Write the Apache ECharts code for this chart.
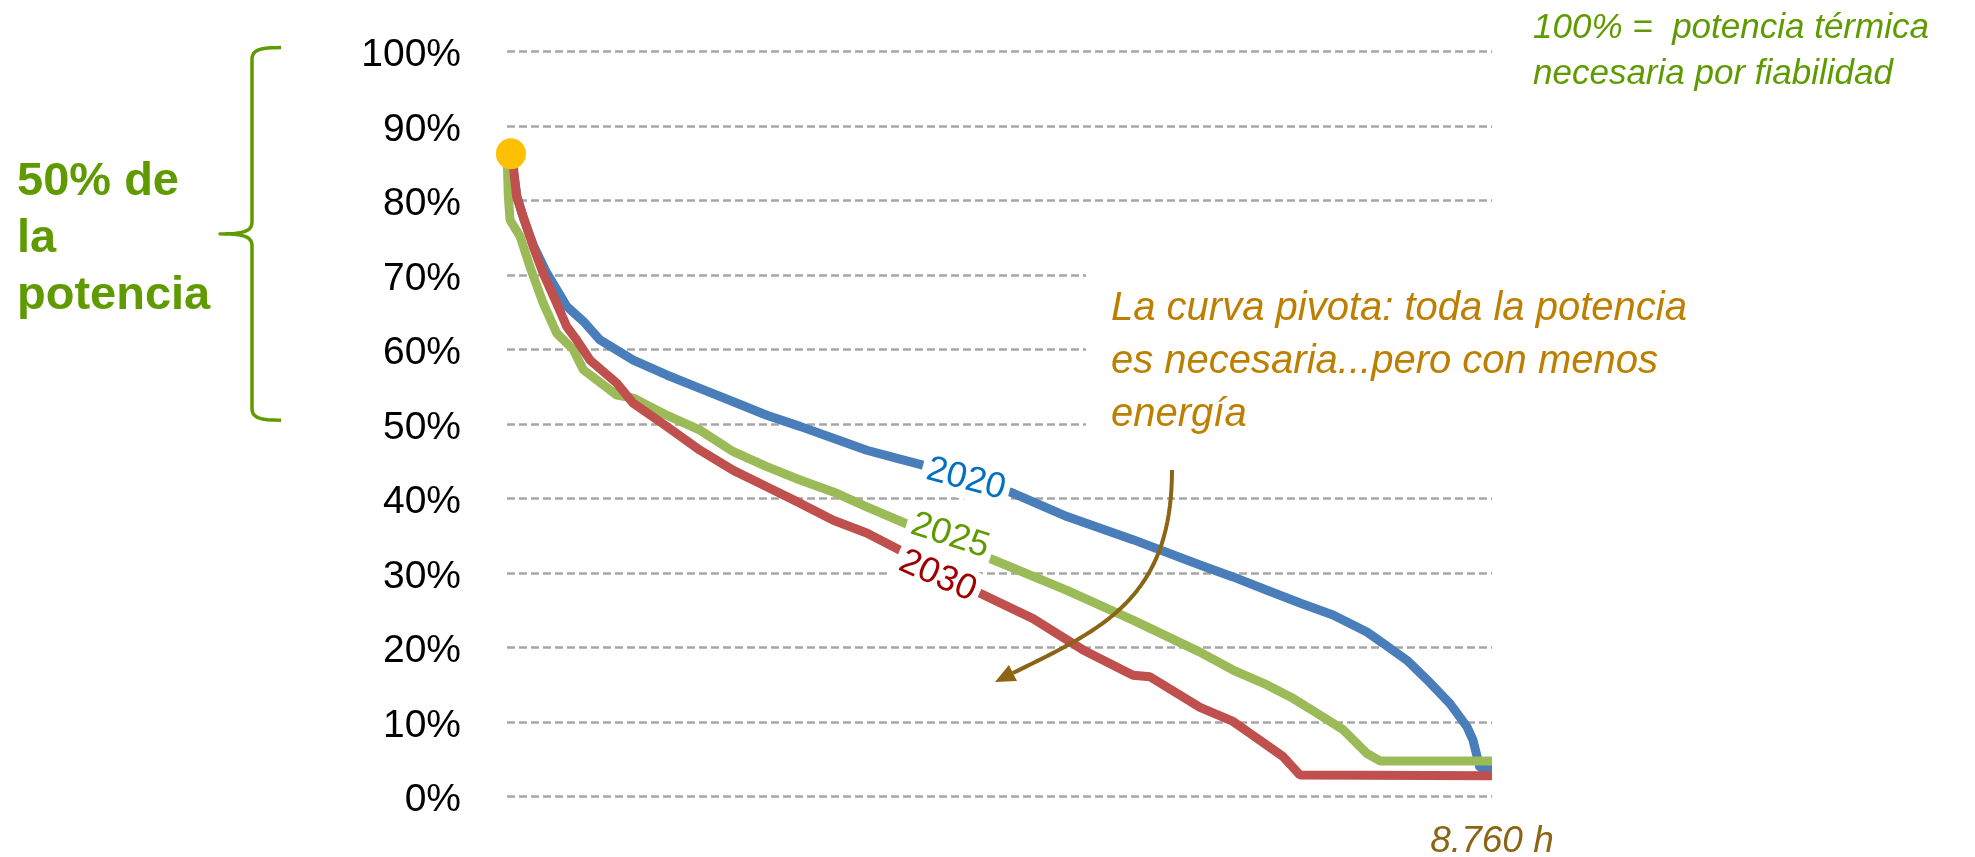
<!DOCTYPE html>
<html><head><meta charset="utf-8">
<script src="https://cdn.jsdelivr.net/npm/echarts@6/dist/echarts.min.js"></script>
<style>html,body{margin:0;padding:0;background:#fff}#c{width:1975px;height:857px}</style>
</head><body><div id="c"></div>
<script>
// ---- data (hours of the year, % of reliability thermal capacity) ----
const hours2020 = [0, 50, 90, 150, 240, 353, 531, 679, 827, 1123, 1420, 1716, 2013, 2310, 2606, 2902, 3199, 3495, 3673, 4473, 4980, 5567, 6163, 6457, 6759, 7052, 7346, 7648, 7790, 8004, 8182, 8386, 8537, 8591, 8627, 8653, 8760];
const values2020 = [86.3, 84.5, 80.5, 77.5, 73.8, 70.3, 65.8, 63.8, 61.3, 58.6, 56.6, 54.8, 53.0, 51.2, 49.7, 48.1, 46.5, 45.3, 44.6, 40.9, 37.6, 34.5, 31.1, 29.5, 27.7, 26.0, 24.4, 22.1, 20.6, 18.3, 15.7, 12.5, 9.4, 7.6, 5.4, 3.85, 3.85];

const hours2025 = [0, 12, 27, 116, 205, 323, 442, 590, 679, 976, 1123, 1420, 1716, 2013, 2310, 2606, 2902, 3199, 3540, 4322, 4980, 5567, 6163, 6457, 6759, 6990, 7204, 7435, 7648, 7764, 8760];
const values2025 = [86.3, 80.5, 77.4, 75.2, 71.1, 66.2, 62.2, 60.0, 57.3, 53.9, 53.5, 51.2, 49.2, 46.3, 44.3, 42.5, 40.9, 38.9, 36.7, 31.8, 27.7, 23.7, 19.4, 17.0, 15.0, 13.2, 11.2, 9.0, 5.8, 4.8, 4.8];

const hours2030 = [0, 56, 86, 145, 234, 323, 442, 531, 620, 738, 976, 1123, 1420, 1716, 2013, 2310, 2606, 2902, 3199, 3466, 4207, 4678, 5123, 5567, 5718, 6163, 6457, 6608, 6759, 6901, 7052, 8760];
const values2030 = [86.3, 84.6, 80.5, 77.8, 73.8, 70.2, 66.2, 63.1, 61.3, 58.6, 55.5, 52.8, 49.7, 46.5, 43.8, 41.6, 39.4, 37.1, 35.4, 33.3, 27.3, 23.9, 19.7, 16.3, 16.1, 12.0, 10.1, 8.5, 6.9, 5.4, 2.9, 2.8];

const peakHours = [35];
const peakValues = [86.3];

const seriesNames = ['2020', '2025', '2030'];
const xMaxHours = 8760;
const xMaxLabel = '8.760 h';

(function () {
const zip = (a, b) => a.map((v, i) => [v, b[i]]);
const FONT = '"Liberation Sans", Arial, sans-serif';

const chart = echarts.init(document.getElementById('c'), null, {renderer: 'canvas'});
chart.setOption({
  animation: false,
  backgroundColor: '#fff',
  grid: {left: 507, right: 483, top: 51.6, bottom: 60.3, containLabel: false, outerBoundsMode: 'none'},
  xAxis: {
    type: 'value', min: 0, max: xMaxHours, interval: xMaxHours,
    axisLine: {show: false}, axisTick: {show: false}, splitLine: {show: false},
    axisLabel: {
      showMinLabel: false, showMaxLabel: true,
      formatter: v => (v === xMaxHours ? xMaxLabel : ''),
      color: '#8B6414', fontSize: 37, fontStyle: 'italic', fontFamily: FONT, margin: 27
    }
  },
  yAxis: {
    type: 'value', min: 0, max: 100, interval: 10,
    axisLine: {show: false}, axisTick: {show: false},
    axisLabel: {formatter: '{value}%', color: '#000', fontSize: 39, fontFamily: FONT, margin: 46,
      verticalAlign: 'top', lineHeight: 8},
    splitLine: {lineStyle: {color: '#A6A6A6', width: 2.5, type: [8, 4]}}
  },
  series: [
    {name: seriesNames[0], type: 'line', data: zip(hours2020, values2020), showSymbol: false,
     lineStyle: {color: '#4A7EBB', width: 9}, z: 3},
    {name: seriesNames[1], type: 'line', data: zip(hours2025, values2025), showSymbol: false,
     lineStyle: {color: '#9BBB59', width: 9}, z: 4},
    {name: seriesNames[2], type: 'line', data: zip(hours2030, values2030), showSymbol: false,
     lineStyle: {color: '#C0504D', width: 9}, z: 5},
    {type: 'scatter', data: zip(peakHours, peakValues), symbolSize: [30, 31],
     itemStyle: {color: '#FFC000', opacity: 1}, z: 10}
  ]
});

const px = (h, v) => chart.convertToPixel({gridIndex: 0}, [h, v]);
const bez = (p0, p1, p2, p3, n) => {
  const out = [];
  for (let i = 0; i <= n; i++) {
    const t = i / n, m = 1 - t;
    out.push([
      m * m * m * p0[0] + 3 * m * m * t * p1[0] + 3 * m * t * t * p2[0] + t * t * t * p3[0],
      m * m * m * p0[1] + 3 * m * m * t * p1[1] + 3 * m * t * t * p2[1] + t * t * t * p3[1]
    ]);
  }
  return out;
};

// brace from 100% to 50%
const bTop = px(0, 100)[1] - 4, bBot = px(0, 50)[1] - 4, bMid = (bTop + bBot) / 2;
const bx = 252, arm = 281, tip = 220;
const bracePts = [].concat(
  bez([arm, bTop], [bx + 8, bTop], [bx, bTop + 2], [bx, bTop + 12], 12),
  bez([bx, bMid - 12], [bx, bMid - 2], [bx - 10, bMid], [tip, bMid], 12),
  bez([tip, bMid], [bx - 10, bMid], [bx, bMid + 2], [bx, bMid + 12], 12),
  bez([bx, bBot - 12], [bx, bBot - 2], [bx + 8, bBot], [arm, bBot], 12)
);

// series labels anchored in data units
const labelAnchors = [
  {text: '2020', h: 4082, v: 42.6, color: '#0070C0', rot: 15},
  {text: '2025', h: 3940, v: 35.0, color: '#5F9B00', rot: 18},
  {text: '2030', h: 3830, v: 29.6, color: '#A00000', rot: 24}
];

// arrow in data units
const a0 = px(5914, 43.85), a1 = px(5914, 26.4), a2 = px(5274, 22.4), a3 = px(4340, 15.4);
const dx = a3[0] - a2[0], dy = a3[1] - a2[1], dl = Math.hypot(dx, dy);
const ux = dx / dl, uy = dy / dl, nx = -uy, ny = ux;
const headL = 20, headW = 9;
const base = [a3[0] - headL * ux, a3[1] - headL * uy];
const arrowPts = bez(a0, a1, a2, base, 40);

const graphics = [
  {type: 'rect', z: 50, shape: {x: 1086, y: 262, width: 660, height: 176}, style: {fill: '#fff'}},
  {type: 'text', z: 60, x: 1111, y: 282, style: {
    text: 'La curva pivota: toda la potencia\nes necesaria...pero con menos\nenergía',
    fill: '#BD7F00', fontSize: 40, fontStyle: 'italic', fontFamily: FONT, lineHeight: 53, verticalAlign: 'top'}},
  {type: 'text', z: 60, x: 1533, y: 5, style: {
    text: '100% =  potencia térmica\nnecesaria por fiabilidad',
    fill: '#5F9B00', fontSize: 35, fontStyle: 'italic', fontFamily: FONT, lineHeight: 46, verticalAlign: 'top'}},
  {type: 'text', z: 60, x: 17, y: 154, style: {
    text: '50% de\nla\npotencia',
    fill: '#5F9B00', fontSize: 47, fontWeight: 'bold', fontFamily: FONT, lineHeight: 57, verticalAlign: 'top'}},
  {type: 'polyline', z: 60, shape: {points: bracePts},
   style: {fill: null, stroke: '#5F9B00', lineWidth: 3.5, lineJoin: 'round'}},
  {type: 'polyline', z: 110, shape: {points: arrowPts},
   style: {stroke: '#8B6414', lineWidth: 4, fill: null, lineJoin: 'round'}},
  {type: 'polygon', z: 110, shape: {points: [
    a3, [base[0] + headW * nx, base[1] + headW * ny], [base[0] - headW * nx, base[1] - headW * ny]]},
   style: {fill: '#8B6414'}}
];
labelAnchors.forEach(l => {
  const p = px(l.h, l.v);
  graphics.push({type: 'text', z: 100, x: p[0], y: p[1], rotation: -l.rot * Math.PI / 180,
    style: {text: l.text, fill: l.color, fontSize: 36, fontFamily: FONT, align: 'center',
      verticalAlign: 'middle', backgroundColor: '#fff', padding: [2, 5]}});
});
chart.setOption({graphic: {elements: graphics}});
})();
</script>
</body></html>
